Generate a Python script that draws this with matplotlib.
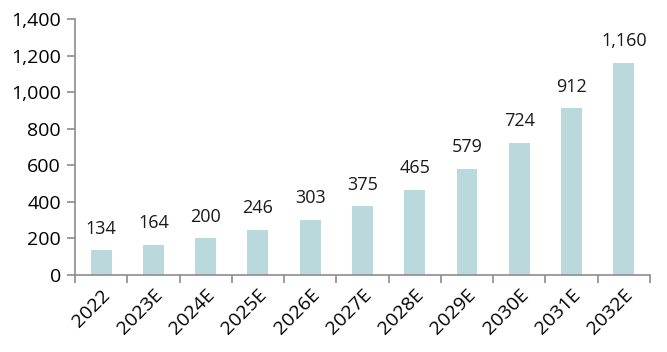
import matplotlib.pyplot as plt
from matplotlib.ticker import FuncFormatter

years = ['2022', '2023E', '2024E', '2025E', '2026E', '2027E',
         '2028E', '2029E', '2030E', '2031E', '2032E']
values = [134, 164, 200, 246, 303, 375, 465, 579, 724, 912, 1160]

plt.rcParams['font.family'] = ['Open Sans', 'DejaVu Sans']

fig = plt.figure(figsize=(6.67, 3.52), dpi=100)
ax = fig.add_axes([0.1124, 0.219, 0.862, 0.727])

x = list(range(len(years)))
ax.bar(x, values, width=0.4, color='#b9d9dc')
for xi, v in zip(x, values):
    ax.annotate(f'{v:,}', (xi, v), xytext=(0, 12), textcoords='offset points',
                ha='center', va='baseline', fontsize=13, color='#1a1a1a')

ax.set_xlim(-0.5, len(years) - 0.5)
ax.set_ylim(0, 1400)
ax.set_yticks(range(0, 1401, 200))
ax.yaxis.set_major_formatter(FuncFormatter(lambda v, p: f'{int(v):,}'))

# ticks between categories on the x axis
ax.set_xticks([i - 0.5 for i in range(len(years) + 1)])
ax.set_xticklabels([])
ax.set_xticks(x, minor=True)
ax.set_xticklabels(years, minor=True, rotation=45, ha='right', rotation_mode='anchor',
                   fontsize=14)
ax.tick_params(axis='x', which='minor', length=0, pad=8)
ax.tick_params(axis='x', which='major', length=6, width=1.2, color='#8c8c8c')
ax.tick_params(axis='y', length=6, width=1.2, color='#8c8c8c', labelsize=14, pad=4)

for s in ['top', 'right']:
    ax.spines[s].set_visible(False)
for s in ['left', 'bottom']:
    ax.spines[s].set_color('#8c8c8c')
    ax.spines[s].set_linewidth(1.2)

fig.savefig('out.png', dpi=100)
